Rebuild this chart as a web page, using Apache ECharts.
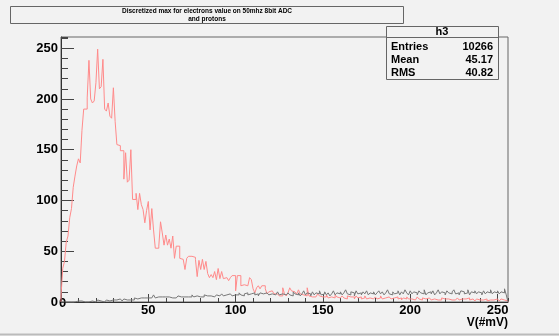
<!DOCTYPE html>
<html>
<head>
<meta charset="utf-8">
<script src="https://cdn.jsdelivr.net/npm/echarts@6/dist/echarts.min.js"></script>
<style>
html,body{margin:0;padding:0;background:#f2f2f2;}
#chart{width:559px;height:336px;}
</style>
</head>
<body>
<div id="chart"></div>
<script>
// Histogram h3 (electrons), 256 bins of width 1 mV, lower edges 0..255
const electronCounts = [
  6,33,40,59,65,83,92,113,124,134,
  141,137,169,190,190,201,238,200,196,198,
  216,249,210,212,239,190,188,196,183,181,
  211,178,155,154,149,149,121,147,118,120,
  150,101,101,107,91,107,96,91,78,90,
  99,71,92,71,53,53,55,79,68,56,
  66,56,62,53,65,43,55,55,43,42,
  41,32,43,45,45,45,44,42,25,41,
  32,42,32,40,28,24,27,24,30,22,
  33,23,30,23,24,24,21,24,26,26,
  11,26,26,16,17,17,16,16,24,22,
  13,9,14,16,13,16,16,13,8,10,
  11,11,8,8,7,6,6,14,8,6,
  9,14,11,10,9,8,12,8,7,6,
  6,14,6,5,6,5,6,8,6,5,
  6,5,7,4,5,6,4,7,5,4,
  5,6,4,3,6,5,4,5,3,6,
  4,5,3,4,6,3,4,5,3,4,
  5,3,4,6,3,4,3,5,4,3,
  4,3,5,3,4,2,4,3,5,3,
  3,4,2,3,5,3,2,4,3,2,
  4,3,2,3,4,2,3,2,4,3,
  2,3,4,2,3,2,3,4,2,3,
  2,3,2,4,2,3,2,1,3,2,
  3,2,2,3,1,2,3,2,2,3,
  2,1,3,2,2,1
];
// Protons, same binning
const protonCounts = [
  0,0,0,0,0,0,0,0,0,1,
  1,1,0,0,0,0,0,1,0,0,
  1,2,1,1,0,1,2,1,1,2,
  1,2,2,3,2,1,3,2,3,2,
  3,2,4,3,3,4,3,4,3,4,
  3,4,4,7,4,5,4,5,4,5,
  4,5,6,4,5,4,5,6,5,4,
  5,6,5,6,5,7,5,6,6,5,
  6,5,7,6,5,6,7,5,6,7,
  6,7,8,6,7,6,8,7,6,7,
  8,7,9,7,6,8,9,7,8,7,
  9,7,8,6,9,8,7,9,8,7,
  8,9,7,8,10,7,8,9,7,8,
  9,7,6,10,8,7,9,6,8,11,
  7,9,8,6,10,7,9,8,11,7,
  8,10,7,9,6,8,11,7,9,8,
  10,7,9,12,8,7,10,9,6,11,
  8,9,7,10,8,11,7,9,8,10,
  7,9,11,8,10,7,9,12,8,7,
  10,8,9,11,7,10,8,12,9,7,
  11,8,10,9,7,11,9,8,12,7,
  9,10,8,11,7,9,12,8,10,9,
  7,11,9,8,10,12,8,9,7,11,
  10,8,9,12,7,10,9,11,8,10,
  9,7,11,8,10,9,12,8,10,9,
  11,8,10,9,13,7
];
const xRange = [0, 256];
const yRange = [0, 261];
const titleLines = ['Discretized max for electrons value on 50mhz 8bit ADC', 'and protons'];
const xAxisTitle = 'V(#mV)';
const statName = 'h3';
const statLabels = ['Entries', 'Mean', 'RMS'];
const statValues = ['10266', '45.17', '40.82'];

function toSteps(counts) {
  const pts = [[xRange[0], 0]];
  counts.forEach((c, i) => pts.push([xRange[0] + i, c]));
  pts.push([xRange[0] + counts.length, counts[counts.length - 1]]);
  pts.push([xRange[0] + counts.length, 0]);
  return pts;
}

const FONT = 'Liberation Sans, Arial, Helvetica, sans-serif';
const chart = echarts.init(document.getElementById('chart'), null, {renderer: 'canvas'});

const axisCommon = {
  type: 'value',
  splitLine: {show: false},
};

const graphics = [
  {type: 'rect', shape: {x: 10.5, y: 6.5, width: 393, height: 17}, style: {fill: '#f2f2f2', stroke: '#666', lineWidth: 1}, z: 10},
  {type: 'text', z: 11, x: 207, y: 11.5,
   style: {text: titleLines[0], font: 'bold 6.5px ' + FONT, fill: '#000', textAlign: 'center', textVerticalAlign: 'middle'}},
  {type: 'text', z: 11, x: 207, y: 19,
   style: {text: titleLines[1], font: 'bold 6.5px ' + FONT, fill: '#000', textAlign: 'center', textVerticalAlign: 'middle'}},
  {type: 'rect', shape: {x: 386.5, y: 26.5, width: 112, height: 53}, style: {fill: '#f2f2f2', stroke: '#666', lineWidth: 1}, z: 10},
  {type: 'line', shape: {x1: 386.5, y1: 37.5, x2: 498.5, y2: 37.5}, style: {stroke: '#666', lineWidth: 1}, z: 11},
  {type: 'text', z: 11, x: 442, y: 32,
   style: {text: statName, font: 'bold 11px ' + FONT, fill: '#000', textAlign: 'center', textVerticalAlign: 'middle'}},
  {type: 'text', z: 11, x: 508, y: 323,
   style: {text: xAxisTitle, font: 'bold 12px ' + FONT, fill: '#000', textAlign: 'right', textVerticalAlign: 'middle'}},
  {type: 'line', shape: {x1: 0, y1: 334.5, x2: 559, y2: 334.5}, style: {stroke: '#bbb', lineWidth: 2}, z: 1}
];
statLabels.forEach((lab, i) => {
  graphics.push({type: 'text', z: 11, x: 391, y: 47 + i * 12.8,
    style: {text: lab, font: 'bold 11px ' + FONT, fill: '#000', textAlign: 'left', textVerticalAlign: 'middle'}});
  graphics.push({type: 'text', z: 11, x: 493, y: 47 + i * 12.8,
    style: {text: statValues[i], font: 'bold 11px ' + FONT, fill: '#000', textAlign: 'right', textVerticalAlign: 'middle'}});
});

chart.setOption({
  animation: false,
  backgroundColor: '#f2f2f2',
  grid: {left: 61, top: 37, right: 51, bottom: 34, show: true, borderColor: '#666', borderWidth: 1, backgroundColor: 'transparent'},
  xAxis: [
    Object.assign({}, axisCommon, {
      min: xRange[0], max: xRange[1], interval: 50,
      axisLine: {show: true, lineStyle: {color: '#333', width: 1}},
      axisTick: {inside: true, length: 8, lineStyle: {color: '#444'}},
      axisLabel: {show: true, margin: -5, showMaxLabel: false, color: '#000',
        fontFamily: FONT, fontWeight: 'bold', fontSize: 13,
        formatter: v => v === 0 ? '{z|0}' : '{n|' + v + '}',
        rich: {z: {fontFamily: FONT, fontWeight: 'bold', fontSize: 13, padding: [0, 0, 0, 3], color: '#000'},
               n: {fontFamily: FONT, fontWeight: 'bold', fontSize: 13, padding: [7, 0, 0, 0], color: '#000'}}}
    }),
    Object.assign({}, axisCommon, {
      min: xRange[0], max: xRange[1], interval: 10, position: 'bottom',
      axisLine: {show: false},
      axisTick: {inside: true, length: 4, lineStyle: {color: '#444'}},
      axisLabel: {show: false}
    })
  ],
  yAxis: [
    Object.assign({}, axisCommon, {
      min: yRange[0], max: yRange[1], interval: 50,
      axisLine: {show: true, lineStyle: {color: '#333', width: 1}},
      axisTick: {inside: true, length: 13, lineStyle: {color: '#444'}},
      axisLabel: {show: true, margin: 3, showMaxLabel: false, color: '#000',
        fontFamily: FONT, fontWeight: 'bold', fontSize: 13}
    }),
    Object.assign({}, axisCommon, {
      min: yRange[0], max: yRange[1], interval: 10, position: 'left',
      axisLine: {show: false},
      axisTick: {inside: true, length: 7, lineStyle: {color: '#444'}},
      axisLabel: {show: false}
    })
  ],
  series: [
    {name: 'electrons', type: 'line', step: 'end', showSymbol: false, symbol: 'none',
     data: toSteps(electronCounts), xAxisIndex: 0, yAxisIndex: 0,
     lineStyle: {color: '#ff8a8a', width: 1}, z: 3},
    {name: 'protons', type: 'line', step: 'end', showSymbol: false, symbol: 'none',
     data: toSteps(protonCounts), xAxisIndex: 0, yAxisIndex: 0,
     lineStyle: {color: '#777', width: 1}, z: 4}
  ],
  graphic: graphics
});
</script>
</body>
</html>
